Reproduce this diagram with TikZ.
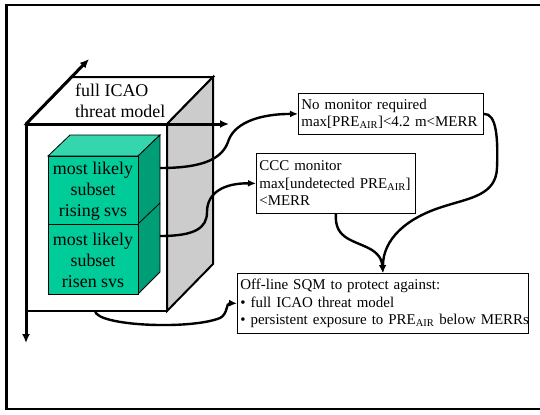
\documentclass[tikz,border=0pt]{standalone}
\usepackage{fontspec}
\setmainfont{Liberation Serif}
\usetikzlibrary{arrows.meta}
\definecolor{gfront}{RGB}{0,204,153}
\definecolor{gtop}{RGB}{51,214,173}
\definecolor{gside}{RGB}{0,158,118}
\definecolor{greyside}{RGB}{204,204,204}
\begin{document}
\begin{tikzpicture}[x=1bp,y=-1bp,
 conn/.style={line width=2.4bp, -{Latex[length=8bp,width=7bp]}},
 axis/.style={line width=3bp, -{Latex[length=9bp,width=8bp]}},
 cubeedge/.style={line width=2bp, line join=miter},
 gedge/.style={line width=0.8bp},
 infobox/.style={draw, line width=0.8bp, fill=white, font=\fontsize{15}{17.5}\selectfont, align=left, inner xsep=3bp, inner ysep=2bp, anchor=north west},
 cubetext/.style={font=\fontsize{18}{21}\selectfont, align=center, inner sep=0pt}]
\clip (0,0) rectangle (540,414);
\draw[line width=2.2bp] (6.5,5) rectangle (600,409);

% big cube
\filldraw[fill=white, cubeedge] (26,124) -- (72,77) -- (213,77) -- (167,124) -- cycle;
\filldraw[fill=greyside, cubeedge] (167,124) -- (213,77) -- (213,264) -- (167,311) -- cycle;
\filldraw[fill=white, cubeedge] (26,124) rectangle (167,311);
\node[cubetext, align=left, anchor=west] (top) at (75,101) {full ICAO\\threat model};

% green cubes
\filldraw[fill=gtop, gedge] (48,156) -- (70,135) -- (160,135) -- (138,156) -- cycle;
\filldraw[fill=gside, gedge] (138,156) -- (160,135) -- (160,272) -- (138,294) -- cycle;
\draw[gedge] (138,224) -- (160,203);
\filldraw[fill=gfront, gedge] (48,156) rectangle (138,224);
\filldraw[fill=gfront, gedge] (48,224) rectangle (138,294);
\node[cubetext] (rising) at (93,191) {most likely\\subset\\rising svs};
\node[cubetext] (risen) at (93,260) {most likely\\subset\\risen svs};

% axes
\coordinate (o) at (26,124);
\coordinate (xend) at (229,124);
\coordinate (yend) at (26,343);
\coordinate (zend) at (89,59);
\draw[axis] (o) -- (xend);
\draw[axis] (o) -- (yend);
\draw[axis] (o) -- (zend);

% boxes
\node[infobox, text width=179bp, minimum height=41bp] (b1) at (298,93) {No monitor required\\\mbox{max[PRE\textsubscript{AIR}]<4.2 m<MERR}};
\node[infobox, text width=153bp, minimum height=60bp] (b2) at (256,153) {CCC monitor\\\mbox{max[undetected PRE\textsubscript{AIR}]}\\<MERR};
\node[infobox, text width=285bp, minimum height=60bp] (b3) at (237,273) {Off-line SQM to protect against:\\\textbullet{} full ICAO threat model\\\mbox{\textbullet{} persistent exposure to PRE\textsubscript{AIR} below MERRs}};

% connector anchors
\coordinate (c1s) at (160,168);
\coordinate (c2s) at (160,236);
\coordinate (c3s) at (95,311);

\draw[conn] (c1s) .. controls (205,168) and (222,158) .. (228,142) .. controls (233,125) and (255,114) .. (b1.west);
\draw[conn] (c2s) .. controls (195,236) and (207,228) .. (207,212) .. controls (207,192) and (225,183) .. (b2.west);
\draw[conn] (c3s) .. controls (97,326) and (190,330) .. (220,318) .. controls (228,314) and (226,303) .. (b3.west);
\draw[conn] (b1.east) .. controls (497,113) and (498,140) .. (497,168) .. controls (496,195) and (470,198) .. (445,206) .. controls (405,218) and (383,240) .. (b3.north);
\draw[conn] (b2.south) .. controls (334,240) and (355,240) .. (372,250) .. controls (381,256) and (382,262) .. (b3.north);
\end{tikzpicture}
\end{document}
